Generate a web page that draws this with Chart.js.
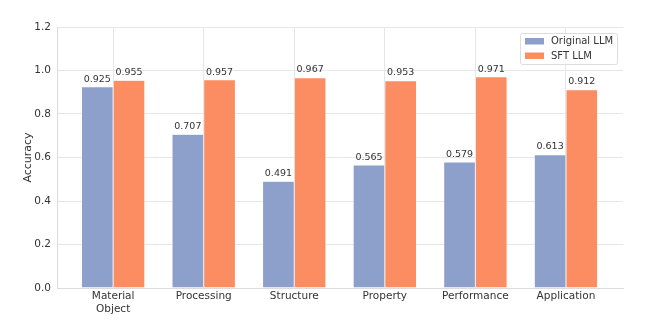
<!DOCTYPE html>
<html>
<head>
<meta charset="utf-8">
<script src="https://cdn.jsdelivr.net/npm/chart.js@4.4.1/dist/chart.umd.min.js"></script>
<style>
    html, body { margin: 0; padding: 0; background: #ffffff; }
    #wrap { width: 653px; height: 326px; }
</style>
</head>
<body>
<div id="wrap"><canvas id="accChart" width="653" height="326"></canvas></div>
<script>
// ---- Chart Data ----
const categories = [['Material', 'Object'], 'Processing', 'Structure', 'Property', 'Performance', 'Application'];
const originalScores = [0.925, 0.707, 0.491, 0.565, 0.579, 0.613];
const sftScores = [0.955, 0.957, 0.967, 0.953, 0.971, 0.912];
const yTicks = [0.0, 0.2, 0.4, 0.6, 0.8, 1.0, 1.2];
const seriesNames = ['Original LLM', 'SFT LLM'];
const seriesColors = ['#8DA0CB', '#FC8D62'];

const FONT = '"DejaVu Sans", sans-serif';

// ---- Value Labels Above Bars ----
const valueLabels = {
    id: 'valueLabels',
    afterDatasetsDraw(chart) {
        const ctx = chart.ctx;
        ctx.save();
        ctx.font = '9.5px ' + FONT;
        ctx.fillStyle = '#333333';
        ctx.textAlign = 'center';
        ctx.textBaseline = 'bottom';
        chart.data.datasets.forEach((ds, i) => {
            chart.getDatasetMeta(i).data.forEach((bar, j) => {
                ctx.fillText(ds.data[j].y.toFixed(3), bar.x, bar.y - 3);
            });
        });
        ctx.restore();
    }
};

// ---- Legend Inside Plot ----
const innerLegend = {
    id: 'innerLegend',
    afterDraw(chart) {
        const ctx = chart.ctx;
        const area = chart.chartArea;
        const boxW = 97, boxH = 31;
        const x0 = area.right - boxW - 6;
        const y0 = area.top + 6;
        ctx.save();
        ctx.fillStyle = 'rgba(255,255,255,0.85)';
        ctx.strokeStyle = '#dddddd';
        ctx.lineWidth = 1;
        ctx.beginPath();
        ctx.roundRect(x0 + 0.5, y0 + 0.5, boxW, boxH, 2);
        ctx.fill();
        ctx.stroke();
        ctx.font = '10px ' + FONT;
        ctx.textBaseline = 'middle';
        ctx.textAlign = 'left';
        seriesNames.forEach((name, i) => {
            const cy = y0 + 8 + i * 14.5;
            ctx.fillStyle = seriesColors[i];
            ctx.fillRect(x0 + 5, cy - 3, 19, 6.5);
            ctx.fillStyle = '#333333';
            ctx.fillText(name, x0 + 31, cy + 0.5);
        });
        ctx.restore();
    }
};

// ---- Build Chart ----
function toPoints(values) {
    return values.map((v, i) => ({ x: i, y: v }));
}

new Chart(document.getElementById('accChart'), {
    type: 'bar',
    data: {
        datasets: [
            {
                label: seriesNames[0],
                data: toPoints(originalScores),
                backgroundColor: seriesColors[0],
                borderColor: '#ffffff',
                borderWidth: { left: 0.5, right: 0.5, top: 0.5, bottom: 0 },
                borderSkipped: false
            },
            {
                label: seriesNames[1],
                data: toPoints(sftScores),
                backgroundColor: seriesColors[1],
                borderColor: '#ffffff',
                borderWidth: { left: 0.5, right: 0.5, top: 0.5, bottom: 0 },
                borderSkipped: false
            }
        ]
    },
    options: {
        responsive: false,
        animation: false,
        devicePixelRatio: 1,
        categoryPercentage: 0.7,
        barPercentage: 1.0,
        layout: { padding: { top: 27, right: 30, bottom: 0, left: 22 } },
        plugins: {
            legend: { display: false },
            tooltip: { enabled: false }
        },
        scales: {
            x: {
                type: 'linear',
                offset: false,
                min: -0.62,
                max: 5.63,
                afterBuildTicks(axis) {
                    axis.ticks = categories.map((c, i) => ({ value: i }));
                },
                afterFit(axis) { axis.height = 38; },
                ticks: {
                    callback: (v) => categories[v],
                    color: '#333333',
                    font: { family: FONT, size: 10.5 },
                    padding: 2,
                    maxRotation: 0,
                    autoSkip: false
                },
                grid: { color: '#e6e6e6', lineWidth: 1, drawTicks: false, offset: false },
                border: { color: '#dcdcdc' }
            },
            y: {
                min: 0,
                max: 1.2,
                afterBuildTicks(axis) {
                    axis.ticks = yTicks.map(v => ({ value: v }));
                },
                afterFit(axis) { axis.width = 35; },
                ticks: {
                    callback: (v) => v.toFixed(1),
                    color: '#333333',
                    font: { family: FONT, size: 10.5 },
                    padding: 6
                },
                title: {
                    display: true,
                    text: 'Accuracy',
                    color: '#333333',
                    font: { family: FONT, size: 11 },
                    padding: { top: 0, bottom: 0 }
                },
                grid: { color: '#e6e6e6', lineWidth: 1, drawTicks: false },
                border: { color: '#dcdcdc' }
            }
        }
    },
    plugins: [valueLabels, innerLegend]
});
</script>
</body>
</html>
